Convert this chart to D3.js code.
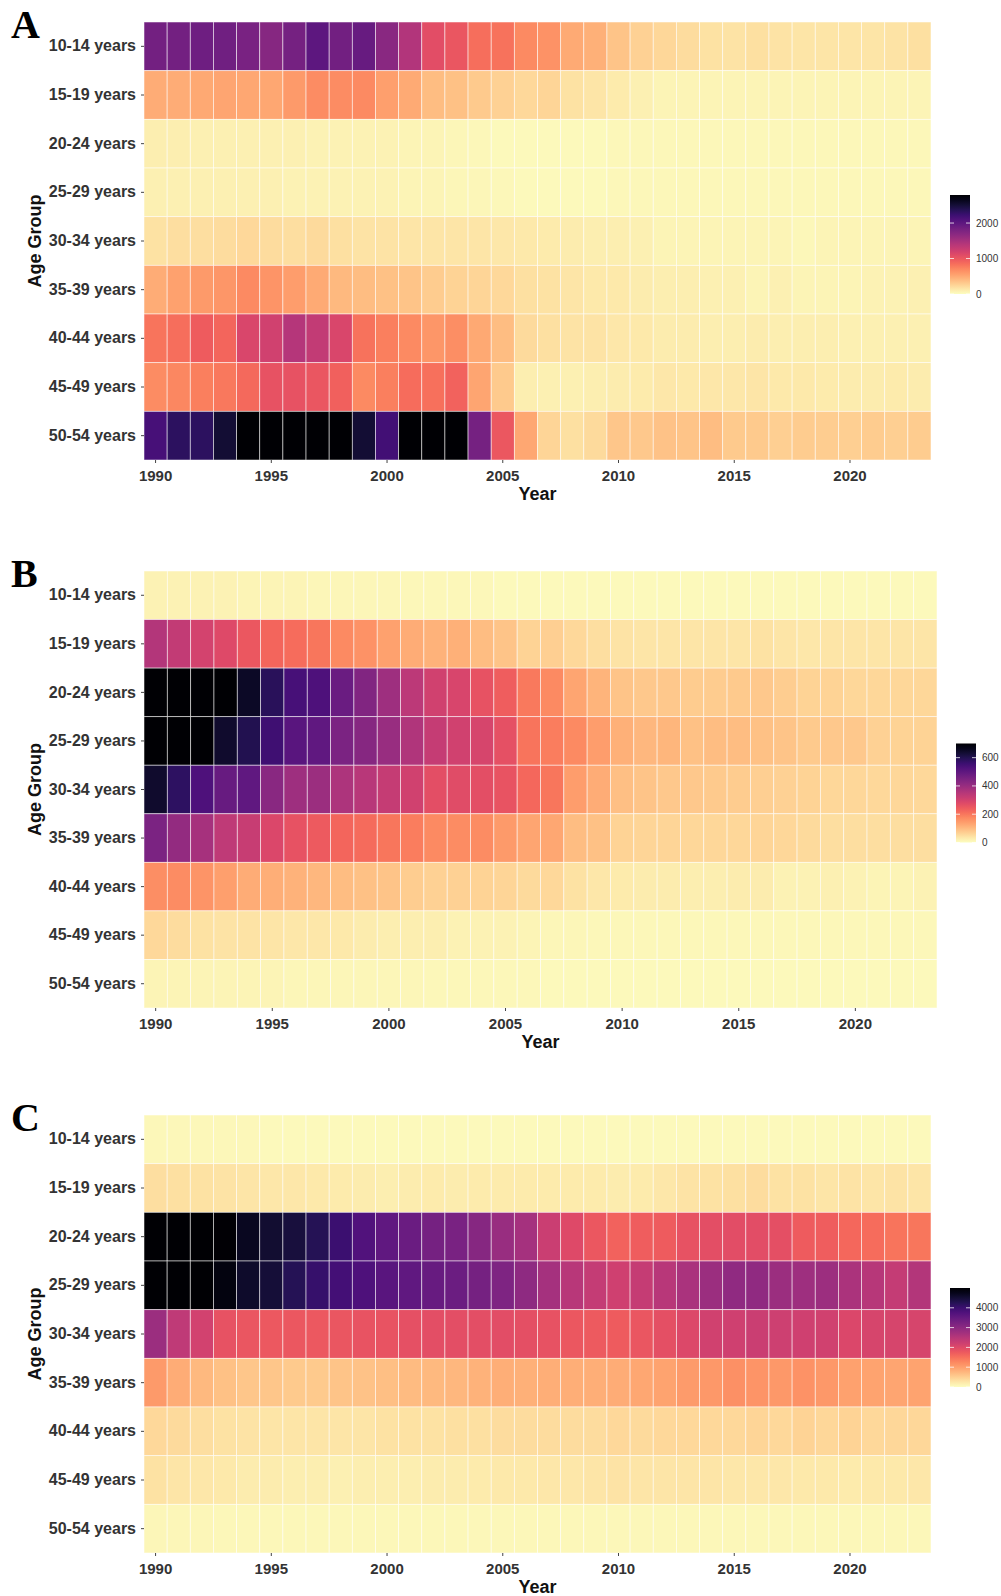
<!DOCTYPE html>
<html>
<head>
<meta charset="utf-8">
<script src="https://cdn.jsdelivr.net/npm/d3@7"></script>
<style>
  body { margin: 0; background: #fff; }
  svg text { font-family: "Liberation Sans", Arial, Helvetica, sans-serif; }
</style>
</head>
<body>
<div id="chart"></div>
<script>
var years = [1990,1991,1992,1993,1994,1995,1996,1997,1998,1999,
             2000,2001,2002,2003,2004,2005,2006,2007,2008,2009,
             2010,2011,2012,2013,2014,2015,2016,2017,2018,2019,
             2020,2021,2022,2023];
var ageGroups = ["10-14 years","15-19 years","20-24 years","25-29 years","30-34 years",
                 "35-39 years","40-44 years","45-49 years","50-54 years"];
var xTicks = [1990, 1995, 2000, 2005, 2010, 2015, 2020];

// panel A
var A_10_14 = [1850,1850,1880,1870,1800,1720,1840,2000,1860,1930, 1700,1420,1080,1010,850,820,680,640,500,459, 340,271,236,206,171,153,177,159,148,142, 148,148,153,177];
var A_15_19 = [483,483,507,530,518,518,596,673,673,685, 566,495,387,370,316,271,218,242,171,148, 112,77,65,59,59,59,59,59,59,59, 59,59,59,59];
var A_20_24 = [88,88,85,85,82,80,78,75,72,70, 66,62,55,48,40,30,24,24,24,26, 35,38,38,40,40,40,40,42,42,40, 40,40,40,40];
var A_25_29 = [85,85,82,82,80,78,76,74,72,70, 66,62,58,52,45,35,28,28,28,28, 35,38,40,40,40,40,42,42,42,40, 40,40,40,40];
var A_30_34 = [171,195,195,206,218,206,195,212,183,159, 153,148,142,142,142,136,124,112,100,94, 88,77,65,65,65,65,65,65,41,59, 59,59,59,59];
var A_35_39 = [483,555,590,620,679,626,572,495,411,387, 370,340,295,254,242,224,177,171,148,124, 124,100,88,88,83,83,65,77,59,65, 65,71,71,77];
var A_40_44 = [813,842,960,900,1153,1220,1400,1310,1150,820, 743,685,620,660,507,387,212,183,159,153, 136,124,100,100,94,94,100,88,88,88, 83,83,83,77];
var A_45_49 = [673,708,743,790,877,1046,1046,1010,930,685, 743,860,836,918,530,316,88,77,77,88, 106,118,136,130,136,136,142,130,124,118, 106,100,112,100];
var A_50_54 = [2150,2330,2330,2520,2790,2790,2780,2790,2780,2520, 2190,2790,2790,2780,1840,1000,513,242,177,212, 328,322,352,340,382,316,316,283,301,289, 277,295,283,295];

// panel B
var B_10_14 = [19,18,18,17,16,15,14,13,12,12, 11,10,10,9,9,8,8,8,8,7, 7,7,7,7,7,7,7,7,7,7, 7,7,7,7];
var B_15_19 = [355,330,300,280,250,225,215,200,170,160, 138,123,113,117,96,85,65,71,55,49, 40,37,37,36,37,38,43,38,34,37, 37,36,37,37];
var B_20_24 = [700,700,700,700,650,590,540,530,480,440, 390,340,305,290,260,240,195,172,132,110, 85,82,80,74,74,78,80,72,64,64, 58,58,59,59];
var B_25_29 = [700,700,700,640,600,555,510,495,450,430, 400,360,325,305,295,265,205,190,172,144, 116,104,107,92,96,98,92,85,77,82, 80,68,64,64];
var B_30_34 = [640,580,530,485,495,425,390,395,365,345, 325,305,270,275,270,258,222,200,144,122, 95,85,82,80,78,74,71,68,65,59, 59,55,58,55];
var B_35_39 = [450,410,375,335,320,285,260,245,225,218, 200,190,170,168,168,150,132,129,98,92, 64,62,62,60,58,58,62,60,52,49, 49,49,49,49];
var B_40_44 = [165,168,157,141,123,120,113,104,98,92, 85,73,68,68,64,61,53,55,43,33, 28,25,25,22,22,25,25,19,19,21, 19,16,16,19];
var B_45_49 = [55,50,43,41,39,36,34,33,31,27, 24,22,22,19,19,19,15,13,13,10, 10,10,10,10,10,10,10,10,10,10, 10,10,10,9];
var B_50_54 = [16,16,15,15,14,14,13,13,12,12, 11,11,10,10,9,9,9,8,8,8, 7,7,7,7,6,6,6,6,6,6, 6,6,6,6];

// panel C
var C_10_14 = [70,65,62,60,60,58,58,56,55,55, 55,55,55,55,55,55,55,55,55,55, 52,52,52,52,52,52,52,52,52,52, 52,52,52,52];
var C_15_19 = [346,315,294,283,273,252,241,220,200,178, 168,178,200,189,200,200,210,210,200,200, 189,210,241,283,294,325,357,305,294,262, 283,262,283,262];
var C_20_24 = [5000,5000,5000,4980,4700,4550,4450,4250,4000,3750, 3550,3420,3300,3230,3080,2870,2700,2250,2000,1780, 1650,1700,1730,1870,1920,1950,1950,1900,1730,1700, 1600,1530,1450,1440];
var C_25_29 = [5000,5000,5000,4850,4600,4480,4250,4050,3900,3770, 3650,3550,3470,3400,3300,3180,2980,2700,2480,2330, 2200,2320,2480,2650,2820,2950,2960,2830,2780,2800, 2620,2490,2340,2520];
var C_30_34 = [2830,2400,2150,1860,1800,1770,1790,1770,1810,1850, 1850,1890,1920,1920,1930,1940,1910,1860,1790,1740, 1720,1800,1910,2020,2180,2200,2250,2220,2200,2170, 2040,2100,2100,2090];
var C_35_39 = [1058,865,737,662,587,587,566,566,608,630, 683,705,737,758,801,844,823,855,855,844, 876,919,962,1036,1090,1162,1120,1090,1140,1090, 994,972,940,972];
var C_40_44 = [410,389,346,305,283,273,273,262,262,273, 294,305,305,315,325,357,368,368,357,357, 410,389,400,400,400,410,430,410,452,420, 452,410,420,420];
var C_45_49 = [305,273,241,220,189,178,168,158,147,158, 158,168,178,189,200,220,231,241,241,262, 283,273,273,262,262,241,252,241,220,220, 210,220,231,241];
var C_50_54 = [85,82,80,78,76,75,74,73,72,72, 72,72,72,70,70,70,70,70,70,70, 68,68,68,68,68,68,68,68,68,68, 68,68,68,68];

var legendTicksA = [0, 1000, 2000];
var legendTicksB = [0, 200, 400, 600];
var legendTicksC = [0, 1000, 2000, 3000, 4000];

var svgWidth = 1001;
var svgHeight = 1596;
var plotLeft = 144;

var panels = [
    {letter: "A", top: 22, bottom: 460, right: 931, legendTicks: legendTicksA,
     rows: [A_10_14, A_15_19, A_20_24, A_25_29, A_30_34, A_35_39, A_40_44, A_45_49, A_50_54]},
    {letter: "B", top: 571, bottom: 1008, right: 937, legendTicks: legendTicksB,
     rows: [B_10_14, B_15_19, B_20_24, B_25_29, B_30_34, B_35_39, B_40_44, B_45_49, B_50_54]},
    {letter: "C", top: 1115, bottom: 1553, right: 931, legendTicks: legendTicksC,
     rows: [C_10_14, C_15_19, C_20_24, C_25_29, C_30_34, C_35_39, C_40_44, C_45_49, C_50_54]}
];

var svg = d3.select("#chart")
    .append("svg")
    .attr("width", svgWidth)
    .attr("height", svgHeight);

var defs = svg.append("defs");

panels.forEach(drawPanel);

function drawPanel(p) {
    var g = svg.append("g");
    var maxVal = d3.max(p.rows, r => d3.max(r));

    var x = d3.scaleBand().domain(years).range([plotLeft, p.right]);
    var y = d3.scaleBand().domain(ageGroups).range([p.top, p.bottom]);
    var color = d3.scaleSequential(t => d3.interpolateMagma(1 - t)).domain([0, maxVal]);

    var cells = [];
    p.rows.forEach(function (vals, i) {
        vals.forEach(function (v, j) {
            cells.push({age: ageGroups[i], year: years[j], value: v});
        });
    });

    // tiles
    g.append("g").selectAll("rect")
        .data(cells)
        .enter()
        .append("rect")
        .attr("x", d => x(d.year))
        .attr("y", d => y(d.age))
        .attr("width", x.bandwidth())
        .attr("height", y.bandwidth())
        .attr("fill", d => color(d.value))
        .attr("stroke", "rgba(255,255,255,0.65)")
        .attr("stroke-width", 0.8);

    // axes
    var xAxis = g.append("g")
        .attr("transform", `translate(0, ${p.bottom})`)
        .call(d3.axisBottom(x).tickValues(xTicks).tickSize(3).tickSizeOuter(0).tickPadding(7));
    xAxis.select(".domain").remove();
    xAxis.selectAll("line").attr("stroke", "#444");
    xAxis.selectAll("text")
        .attr("fill", "#333")
        .style("font-family", "'Liberation Sans', Arial, sans-serif")
        .style("font-size", "15px")
        .style("font-weight", "bold");

    var yAxis = g.append("g")
        .attr("transform", `translate(${plotLeft}, 0)`)
        .call(d3.axisLeft(y).tickSize(3).tickSizeOuter(0).tickPadding(5));
    yAxis.select(".domain").remove();
    yAxis.selectAll("line").attr("stroke", "#444");
    yAxis.selectAll("text")
        .attr("fill", "#333")
        .style("font-family", "'Liberation Sans', Arial, sans-serif")
        .style("font-size", "16px")
        .style("font-weight", "bold");

    // axis titles
    g.append("text")
        .attr("x", (plotLeft + p.right) / 2)
        .attr("y", p.bottom + 40)
        .attr("text-anchor", "middle")
        .style("font-size", "18px")
        .style("font-weight", "bold")
        .attr("fill", "#111")
        .text("Year");

    g.append("text")
        .attr("transform", `translate(35, ${(p.top + p.bottom) / 2}) rotate(-90)`)
        .attr("dy", "0.35em")
        .attr("text-anchor", "middle")
        .style("font-size", "18px")
        .style("font-weight", "bold")
        .attr("fill", "#111")
        .text("Age Group");

    // panel letter
    g.append("text")
        .attr("x", 11)
        .attr("y", p.top + 16)
        .style("font-family", "'Liberation Serif', 'Times New Roman', serif")
        .style("font-size", "40px")
        .style("font-weight", "bold")
        .attr("fill", "#000")
        .text(p.letter);

    // colour bar legend
    var barX = p.right + 19;
    var barW = 20;
    var barH = 99;
    var barTop = (p.top + p.bottom) / 2 + 3.5 - barH / 2;
    var legendY = d3.scaleLinear().domain([0, maxVal]).range([barTop + barH, barTop]);

    var grad = defs.append("linearGradient")
        .attr("id", "grad" + p.letter)
        .attr("x1", 0).attr("y1", 1).attr("x2", 0).attr("y2", 0);
    d3.range(0, 1.0001, 0.05).forEach(function (t) {
        grad.append("stop")
            .attr("offset", t)
            .attr("stop-color", color(t * maxVal));
    });

    g.append("rect")
        .attr("x", barX)
        .attr("y", barTop)
        .attr("width", barW)
        .attr("height", barH)
        .attr("fill", `url(#grad${p.letter})`);

    var lt = g.append("g").selectAll("g")
        .data(p.legendTicks)
        .enter()
        .append("g");
    lt.append("line")
        .attr("x1", barX).attr("x2", barX + 4)
        .attr("y1", d => legendY(d)).attr("y2", d => legendY(d))
        .attr("stroke", "rgba(255,255,255,0.75)");
    lt.append("line")
        .attr("x1", barX + barW - 4).attr("x2", barX + barW)
        .attr("y1", d => legendY(d)).attr("y2", d => legendY(d))
        .attr("stroke", "rgba(255,255,255,0.75)");
    lt.append("text")
        .attr("x", barX + barW + 6)
        .attr("y", d => legendY(d))
        .attr("dy", "0.35em")
        .style("font-size", "10px")
        .attr("fill", "#333")
        .text(d => d);
}
</script>
</body>
</html>
